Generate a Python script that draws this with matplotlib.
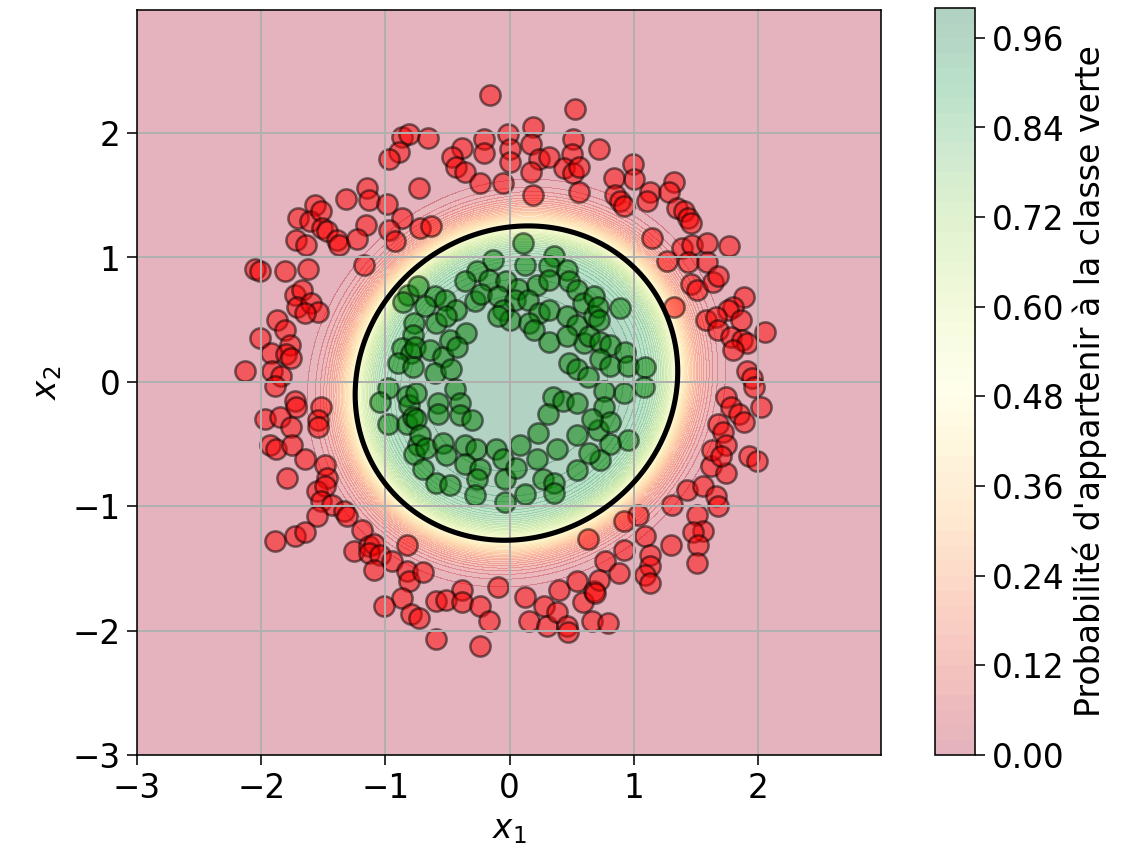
import numpy as np
import matplotlib
matplotlib.use("Agg")
import matplotlib.pyplot as plt

# --- observations: outer ring (red class) ---
red_x = [-0.87, -0.81, -0.89, -0.97, -0.73, -1.15, -1.32, -1.13, -0.99, -0.87, -0.72, -1.16, -0.97, -0.92,
         -1.57, -1.70, -1.61, -1.52, -1.51, -1.47, -1.72, -1.64, -1.39, -1.37, -1.23, -2.05, -2.01, -1.81,
         -1.62, -1.17,
         -0.16, 0.53, 0.19, -0.66, -0.21, -0.01, 0.51, -0.38, -0.21, 0.00, 0.17, 0.72, -0.46, -0.43, -0.36,
         0.00, 0.24, 0.32, 0.50, 0.44, 0.51, 0.56, 0.17, -0.24, -0.05, 0.56, 0.19, -0.63,
         0.99, 1.00, 0.84, 0.85, 0.89, 0.92, 1.13, 1.11, 1.32, 1.28, 1.35, 1.40, 1.44, 1.46, 1.15, 1.39,
         1.47, 1.59, 1.77, 1.27, 1.44, 1.59,
         -1.73, -1.67, -1.71, -1.60, -1.54, -1.65, -1.87, -1.81, -2.01, -1.77, -1.92, -1.80, -1.76, -2.13,
         -1.91, -1.84, -1.89, -1.73, -1.72, -1.52, -1.54, -1.54, -1.97, -1.85, -1.76, -1.93, -1.88, -1.75,
         -1.65, -1.49,
         -1.79, -1.47, -1.55, -1.49, -1.52, -1.43, -1.55, -1.33, -1.31, -1.19, -1.89, -1.73, -1.65, -1.25,
         -1.13, -1.09, -1.13, -1.04, -0.95, -1.09, -0.83, -0.83, -0.81, -0.87, -1.01, -0.79, -0.73,
         0.63, -0.70, -0.38, -0.09, -0.59, -0.51, -0.38, -0.24, -0.17, -0.59, -0.24, 0.12, 0.28, 0.40,
         0.54, 0.59, 0.68, 0.16, 0.30, 0.38, 0.46, 0.47, 0.66,
         1.62, 1.74, 1.43, 1.56, 1.66, 1.68, 1.31, 1.51, 1.56, 1.48, 1.52, 1.51, 1.03, 0.92, 1.09, 1.30,
         1.13, 1.13, 1.09, 1.13, 0.92, 0.77, 0.88, 0.72, 0.69, 0.79,
         1.46, 1.51, 1.64, 1.68, 1.89, 1.80, 1.76, 1.32, 1.58, 1.66, 1.86, 1.68, 1.78, 1.87, 1.91, 1.80,
         2.06, 1.91, 1.95, 1.97, 1.74, 1.78, 2.02, 1.85, 1.89, 1.68, 1.72, 1.63, 1.74, 1.70, 1.93, 1.99]
red_y = [1.97, 1.99, 1.85, 1.79, 1.56, 1.56, 1.47, 1.46, 1.43, 1.32, 1.24, 1.26, 1.22, 1.13,
         1.42, 1.32, 1.29, 1.37, 1.24, 1.21, 1.14, 1.10, 1.14, 1.10, 1.15, 0.91, 0.89, 0.89,
         0.91, 0.94,
         2.31, 2.19, 2.05, 1.96, 1.95, 1.99, 1.95, 1.88, 1.84, 1.87, 1.91, 1.87, 1.81, 1.73, 1.69,
         1.77, 1.79, 1.81, 1.83, 1.72, 1.68, 1.73, 1.69, 1.60, 1.60, 1.53, 1.50, 1.25,
         1.75, 1.63, 1.64, 1.50, 1.45, 1.41, 1.53, 1.45, 1.61, 1.53, 1.40, 1.37, 1.32, 1.28, 1.16, 1.08,
         1.10, 1.12, 1.09, 0.97, 0.96, 0.96,
         0.70, 0.74, 0.60, 0.63, 0.56, 0.55, 0.50, 0.42, 0.35, 0.30, 0.23, 0.22, 0.19, 0.09,
         0.09, 0.05, -0.03, -0.15, -0.20, -0.20, -0.31, -0.36, -0.30, -0.28, -0.36, -0.51, -0.54, -0.51,
         -0.62, -0.67,
         -0.77, -0.77, -0.88, -0.84, -0.96, -0.99, -1.08, -1.04, -1.08, -1.19, -1.28, -1.24, -1.21, -1.36,
         -1.32, -1.30, -1.38, -1.39, -1.44, -1.51, -1.31, -1.52, -1.60, -1.74, -1.80, -1.87, -1.90,
         -1.26, -1.53, -1.67, -1.65, -1.76, -1.75, -1.77, -1.80, -1.92, -2.07, -2.12, -1.73, -1.80, -1.67,
         -1.60, -1.77, -1.68, -1.92, -1.96, -1.85, -1.96, -2.01, -1.92,
         -0.68, -0.73, -0.87, -0.84, -0.92, -1.00, -0.99, -1.07, -1.20, -1.21, -1.31, -1.46, -1.07, -1.12,
         -1.24, -1.31, -1.39, -1.48, -1.55, -1.62, -1.35, -1.44, -1.54, -1.59, -1.70, -1.94,
         0.79, 0.74, 0.80, 0.85, 0.68, 0.60, 0.58, 0.60, 0.50, 0.52, 0.50, 0.42, 0.36, 0.34, 0.31, 0.26,
         0.40, 0.09, 0.03, -0.04, -0.12, -0.20, -0.20, -0.26, -0.32, -0.34, -0.40, -0.55, -0.51, -0.60,
         -0.60, -0.64]

# --- observations: inner ring (green class) ---
green_x = [-0.82, -0.86, -0.77, -0.78, -0.87, -0.79, -0.90, -0.78, -0.98, -1.04, -0.83, -0.81, -0.98,
           -0.83, -0.78, -0.74, -0.77,
           0.11, 0.12, -0.13, 0.36, 0.32, 0.46, -0.26, -0.36, -0.17, -0.03, 0.07, 0.22, 0.32, 0.48, 0.54,
           -0.74, -0.60, -0.68, -0.52, -0.43, -0.28, -0.23, -0.09, 0.04, 0.15, 0.24, 0.32, -0.05, 0.00,
           -0.09, 0.16, 0.20, 0.32, 0.46, 0.59, 0.68, 0.54, 0.60, 0.68, 0.46, 0.64, 0.48, 0.54, 0.63,
           0.35, 0.43, 0.54, -0.48, -0.35, -0.59, -0.51, -0.76, -0.64, -0.54, -0.42, -0.60, -0.47,
           -0.44, -0.75, -0.58, -0.40,
           0.71, 0.89, 0.72, 0.73, 0.81, 0.93, 0.73, 0.81, 0.95, 1.09, 1.08, 0.92, 0.76, 0.76, 0.71,
           0.81, 0.95, 0.81, 0.73,
           -0.75, -0.58, -0.40, -0.30, -0.72, -0.67, -0.54, -0.51, -0.70, -0.59, -0.48, -0.36, -0.27,
           -0.36, -0.24, -0.26, -0.28, -0.11, -0.05, -0.04, -0.04, 0.08, 0.05, 0.12, 0.22, 0.27, 0.36,
           0.38, 0.36, 0.23, 0.31, 0.54, 0.54, 0.64, 0.66]
green_y = [0.70, 0.64, 0.47, 0.38, 0.27, 0.23, 0.15, 0.12, -0.05, -0.16, -0.11, -0.19, -0.34,
           -0.34, -0.28, -0.51, -0.58,
           1.12, 0.94, 0.98, 1.01, 0.93, 0.90, 0.89, 0.81, 0.82, 0.81, 0.75, 0.78, 0.82, 0.81, 0.74,
           0.77, 0.69, 0.61, 0.66, 0.58, 0.65, 0.71, 0.69, 0.66, 0.66, 0.55, 0.58, 0.58, 0.50,
           0.53, 0.47, 0.42, 0.32, 0.53, 0.63, 0.69, 0.46, 0.31, 0.53, 0.37, 0.37, 0.15, 0.10, 0.04,
           -0.12, -0.15, -0.17, 0.34, 0.39, 0.47, 0.53, 0.28, 0.26, 0.20, 0.28, 0.07, 0.10,
           -0.06, -0.09, -0.17, -0.17,
           0.60, 0.59, 0.50, 0.32, 0.30, 0.24, 0.18, 0.13, 0.13, 0.12, -0.04, -0.09, -0.07, -0.20, -0.39,
           -0.32, -0.47, -0.50, -0.63,
           -0.30, -0.26, -0.27, -0.31, -0.43, -0.53, -0.49, -0.59, -0.70, -0.81, -0.83, -0.51, -0.54,
           -0.66, -0.70, -0.78, -0.91, -0.54, -0.62, -0.78, -0.97, -0.51, -0.69, -0.90, -0.62, -0.78, -0.81,
           -0.54, -0.89, -0.41, -0.26, -0.43, -0.71, -0.57, -0.30]

# --- fitted quadratic logistic model: logit = k * (R^2 - Q(x1, x2)) ---
center = (0.055, -0.01)
cross_coef = -0.15
y_scale = 1.056
radius = 1.295
steepness = 3.4

levels = np.linspace(0.0, 1.0, 51)
cbar_label = "Probabilité d'appartenir à la classe verte"

grid = np.arange(-3, 3, 0.01)
X1, X2 = np.meshgrid(grid, grid)
dx = X1 - center[0]
dy = X2 - center[1]
Q = dx ** 2 + cross_coef * dx * dy + y_scale * dy ** 2
P = 1.0 / (1.0 + np.exp(-steepness * (radius ** 2 - Q)))

plt.rcParams["font.size"] = 16.5
plt.rcParams["xtick.major.size"] = 5
plt.rcParams["ytick.major.size"] = 5
plt.rcParams["grid.linewidth"] = 1.0
fig = plt.figure(figsize=(8.0, 6.018), dpi=142.25)
ax = fig.add_axes([137 / 1138, 101 / 856, 744 / 1138, 745 / 856])
cax = fig.add_axes([935 / 1138, 101 / 856, 40 / 1138, 747 / 856])

cs = ax.contourf(X1, X2, P, levels=levels, cmap="RdYlGn", alpha=0.3)
cb = fig.colorbar(cs, cax=cax)
cb.set_label(cbar_label, family="Liberation Sans Narrow", fontsize=16.8)
ax.contour(X1, X2, P, levels=[0.5], colors="k", linewidths=2.6)

ax.scatter(red_x, red_y, c="red", s=105, edgecolors="k", linewidths=1.3, alpha=0.5)
ax.scatter(green_x, green_y, c="green", s=105, edgecolors="k", linewidths=1.3, alpha=0.5)

ax.grid(True)
ax.set_xticks([-3, -2, -1, 0, 1, 2])
ax.set_yticks([-3, -2, -1, 0, 1, 2])
ax.set_xlim(-3, 2.99)
ax.set_ylim(-3, 2.99)
ax.set_xlabel("$x_1$")
ax.set_ylabel("$x_2$")

fig.savefig("out.png", dpi=142.25)
